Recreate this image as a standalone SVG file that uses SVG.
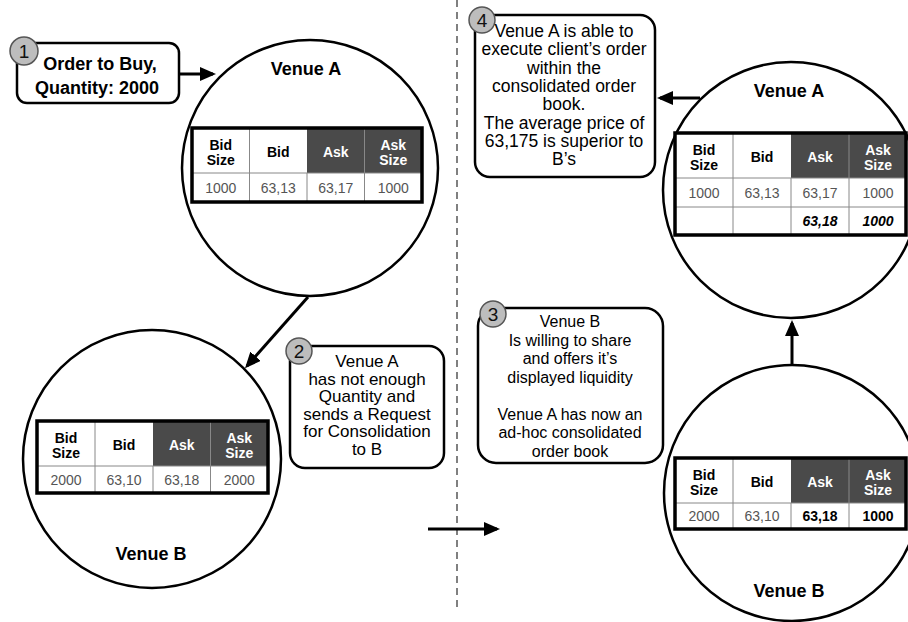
<svg xmlns="http://www.w3.org/2000/svg" width="908" height="622" viewBox="0 0 908 622">
<style>
text{font-family:"Liberation Sans",Arial,sans-serif}
.box{fill:#fff;stroke:#000;stroke-width:2.5}
.num{fill:#bdbdbd;stroke:#555;stroke-width:1.5}
.numt{font-size:19px;fill:#111;text-anchor:middle}
.venue{fill:#fff;stroke:#000;stroke-width:2.5}
.vt{font-size:18px;font-weight:bold;text-anchor:middle}
.ct{font-size:17px;text-anchor:middle;fill:#000}
.c4{font-size:17.5px;text-anchor:middle;fill:#000}
.c3{font-size:16px;text-anchor:middle;fill:#000}
.cb{font-size:18px;font-weight:bold;text-anchor:middle}
.th{font-size:14px;font-weight:bold;text-anchor:middle;fill:#000}
.thw{font-size:14px;font-weight:bold;text-anchor:middle;fill:#fff}
.td{font-size:14px;text-anchor:middle;fill:#555}
.tdb{font-size:14px;font-weight:bold;text-anchor:middle;fill:#000}
.tdi{font-size:14px;font-weight:bold;font-style:italic;text-anchor:middle;fill:#000}
.dark{fill:#4a4a4a}
.grid{stroke:#888;stroke-width:1}
.frame{fill:none;stroke:#000;stroke-width:3.5}
.conn{stroke:#000;stroke-width:3;fill:none;marker-end:url(#ah)}
.sep{stroke:#808080;stroke-width:2;stroke-dasharray:7 5}
</style>
<defs>
<marker id="ah" markerUnits="userSpaceOnUse" markerWidth="16" markerHeight="14" refX="13" refY="7" orient="auto">
<path d="M0,0 L16,7 L0,14 z" fill="#000"/>
</marker>
</defs>

<line class="sep" x1="457" y1="0" x2="457" y2="612"/>

<g id="venueA-left">
<circle class="venue" cx="310" cy="168" r="128"/>
<text class="vt" x="306" y="75">Venue A</text>
<rect x="192" y="128" width="230" height="74" fill="#fff"/>
<rect class="dark" x="307" y="128" width="115" height="45"/>
<line class="grid" x1="249.5" y1="128" x2="249.5" y2="202"/>
<line class="grid" x1="307" y1="173" x2="307" y2="202"/>
<line class="grid" x1="364.5" y1="128" x2="364.5" y2="202"/>
<line class="grid" x1="192" y1="173" x2="422" y2="173"/>
<rect class="frame" x="192" y="128" width="230" height="74"/>
<text class="th" x="220.75" y="150">Bid</text><text class="th" x="220.75" y="165">Size</text>
<text class="th" x="278.25" y="157">Bid</text>
<text class="thw" x="335.75" y="157">Ask</text>
<text class="thw" x="393.25" y="150">Ask</text><text class="thw" x="393.25" y="165">Size</text>
<text class="td" x="220.75" y="193">1000</text>
<text class="td" x="278.25" y="193">63,13</text>
<text class="td" x="335.75" y="193">63,17</text>
<text class="td" x="393.25" y="193">1000</text>
</g>

<g id="venueB-left">
<circle class="venue" cx="152" cy="459" r="129"/>
<text class="vt" x="151" y="560">Venue B</text>
<rect x="37" y="421" width="231" height="72" fill="#fff"/>
<rect class="dark" x="153" y="421" width="115" height="45"/>
<line class="grid" x1="95" y1="421" x2="95" y2="493"/>
<line class="grid" x1="153" y1="466" x2="153" y2="493"/>
<line class="grid" x1="210.5" y1="421" x2="210.5" y2="493"/>
<line class="grid" x1="37" y1="466" x2="268" y2="466"/>
<rect class="frame" x="37" y="421" width="231" height="72"/>
<text class="th" x="66" y="443">Bid</text><text class="th" x="66" y="458">Size</text>
<text class="th" x="124" y="450">Bid</text>
<text class="thw" x="181.75" y="450">Ask</text>
<text class="thw" x="239.25" y="443">Ask</text><text class="thw" x="239.25" y="458">Size</text>
<text class="td" x="66" y="485">2000</text>
<text class="td" x="124" y="485">63,10</text>
<text class="td" x="181.75" y="485">63,18</text>
<text class="td" x="239.25" y="485">2000</text>
</g>

<g id="venueA-right">
<circle class="venue" cx="791" cy="190" r="128"/>
<text class="vt" x="789" y="97">Venue A</text>
<rect x="675" y="133" width="232" height="102" fill="#fff"/>
<rect class="dark" x="791" y="133" width="116" height="45"/>
<line class="grid" x1="733" y1="133" x2="733" y2="235"/>
<line class="grid" x1="791" y1="178" x2="791" y2="235"/>
<line class="grid" x1="849" y1="133" x2="849" y2="235"/>
<line class="grid" x1="675" y1="178" x2="907" y2="178"/>
<line class="grid" x1="675" y1="207" x2="907" y2="207"/>
<rect class="frame" x="675" y="133" width="231" height="102"/>
<text class="th" x="704" y="155">Bid</text><text class="th" x="704" y="170">Size</text>
<text class="th" x="762" y="162">Bid</text>
<text class="thw" x="820" y="162">Ask</text>
<text class="thw" x="878" y="155">Ask</text><text class="thw" x="878" y="170">Size</text>
<text class="td" x="704" y="198">1000</text>
<text class="td" x="762" y="198">63,13</text>
<text class="td" x="820" y="198">63,17</text>
<text class="td" x="878" y="198">1000</text>
<text class="tdi" x="820" y="226">63,18</text>
<text class="tdi" x="878" y="226">1000</text>
</g>

<g id="venueB-right">
<circle class="venue" cx="792" cy="493" r="128"/>
<text class="vt" x="789" y="597">Venue B</text>
<rect x="675" y="458" width="232" height="71" fill="#fff"/>
<rect class="dark" x="791" y="458" width="116" height="45"/>
<line class="grid" x1="733" y1="458" x2="733" y2="529"/>
<line class="grid" x1="791" y1="503" x2="791" y2="529"/>
<line class="grid" x1="849" y1="458" x2="849" y2="529"/>
<line class="grid" x1="675" y1="503" x2="907" y2="503"/>
<rect class="frame" x="675" y="458" width="231" height="71"/>
<text class="th" x="704" y="480">Bid</text><text class="th" x="704" y="495">Size</text>
<text class="th" x="762" y="487">Bid</text>
<text class="thw" x="820" y="487">Ask</text>
<text class="thw" x="878" y="480">Ask</text><text class="thw" x="878" y="495">Size</text>
<text class="td" x="704" y="521">2000</text>
<text class="td" x="762" y="521">63,10</text>
<text class="tdb" x="820" y="521">63,18</text>
<text class="tdb" x="878" y="521">1000</text>
</g>

<g id="callout1">
<rect class="box" x="17" y="43" width="162" height="60" rx="10"/>
<circle class="num" cx="24" cy="51" r="14"/>
<text class="numt" x="24" y="58">1</text>
<text class="cb" x="100" y="70">Order to Buy,</text>
<text class="cb" x="97" y="94">Quantity: 2000</text>
</g>

<g id="callout2">
<rect class="box" x="290" y="346" width="154" height="122" rx="15"/>
<circle class="num" cx="299" cy="351" r="13"/>
<text class="numt" x="299" y="358">2</text>
<text class="ct" x="367" y="367">Venue A</text>
<text class="ct" x="367" y="384.5">has not enough</text>
<text class="ct" x="367" y="402">Quantity and</text>
<text class="ct" x="367" y="419.5">sends a Request</text>
<text class="ct" x="367" y="437">for Consolidation</text>
<text class="ct" x="367" y="454.5">to B</text>
</g>

<g id="callout3">
<rect class="box" x="478" y="308" width="185" height="155" rx="18"/>
<circle class="num" cx="493" cy="314" r="13"/>
<text class="numt" x="493" y="321">3</text>
<text class="c3" x="570" y="327">Venue B</text>
<text class="c3" x="570" y="345.5">Is willing to share</text>
<text class="c3" x="570" y="364">and offers it’s</text>
<text class="c3" x="570" y="382.5">displayed liquidity</text>
<text class="c3" x="570" y="419.5">Venue A has now an</text>
<text class="c3" x="570" y="438">ad-hoc consolidated</text>
<text class="c3" x="570" y="456.5">order book</text>
</g>

<g id="callout4">
<rect class="box" x="475" y="15" width="180" height="162" rx="15"/>
<circle class="num" cx="482" cy="20" r="13"/>
<text class="numt" x="482" y="27">4</text>
<text class="c4" x="564" y="37">Venue A is able to</text>
<text class="c4" x="564" y="55.3">execute client’s order</text>
<text class="c4" x="564" y="73.6">within the</text>
<text class="c4" x="564" y="92">consolidated order</text>
<text class="c4" x="564" y="110.3">book.</text>
<text class="c4" x="564" y="128.6">The average price of</text>
<text class="c4" x="564" y="147">63,175 is superior to</text>
<text class="c4" x="564" y="165.3">B’s</text>
</g>

<g id="connectors">
<line class="conn" x1="180" y1="74" x2="213" y2="74"/>
<line class="conn" x1="308" y1="297" x2="247" y2="366"/>
<line class="conn" x1="792" y1="365" x2="792" y2="323"/>
<line class="conn" x1="700" y1="98" x2="660" y2="98"/>
<line class="conn" x1="428" y1="529" x2="497" y2="529"/>
</g>
</svg>
